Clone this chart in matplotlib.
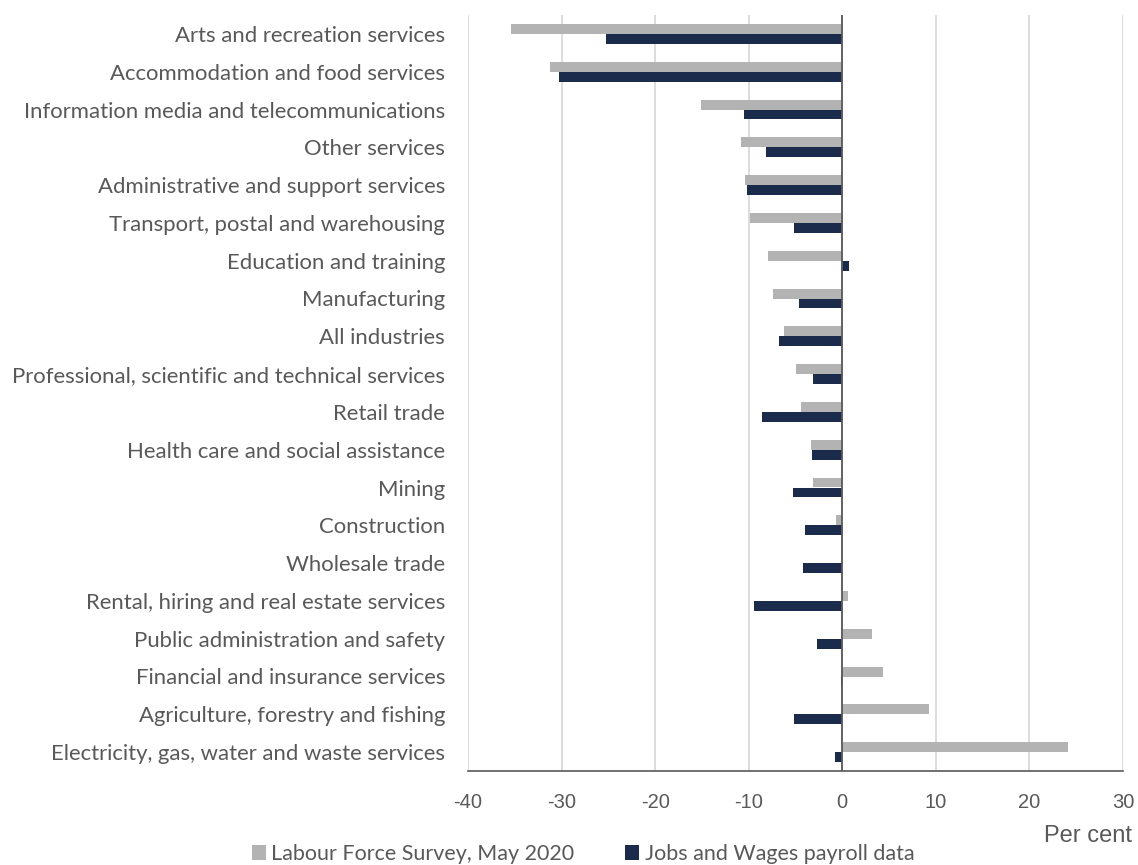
import matplotlib
matplotlib.use("Agg")
import matplotlib.pyplot as plt
import numpy as np

categories = [
    "Arts and recreation services",
    "Accommodation and food services",
    "Information media and telecommunications",
    "Other services",
    "Administrative and support services",
    "Transport, postal and warehousing",
    "Education and training",
    "Manufacturing",
    "All industries",
    "Professional, scientific and technical services",
    "Retail trade",
    "Health care and social assistance",
    "Mining",
    "Construction",
    "Wholesale trade",
    "Rental, hiring and real estate services",
    "Public administration and safety",
    "Financial and insurance services",
    "Agriculture, forestry and fishing",
    "Electricity, gas, water and waste services",
]
lfs = [-35.4, -31.2, -15.1, -10.8, -10.4, -9.9, -7.9, -7.4, -6.2, -4.9,
       -4.4, -3.3, -3.1, -0.7, 0.0, 0.6, 3.2, 4.4, 9.3, 24.1]
payroll = [-25.3, -30.3, -10.5, -8.1, -10.2, -5.2, 0.7, -4.6, -6.8, -3.1,
           -8.6, -3.2, -5.3, -4.0, -4.2, -9.4, -2.7, -0.1, -5.2, -0.8]
xticks = [-40, -30, -20, -10, 0, 10, 20, 30]

plt.rcParams['font.family'] = ['Lato', 'DejaVu Sans']

W, H = 1138, 865
fig = plt.figure(figsize=(W / 100, H / 100), dpi=100)
ax = fig.add_axes([468 / W, 1 - 771 / H, (1123 - 468) / W, (771 - 15) / H])

n = len(categories)
y = np.arange(n)
bh = 0.26
gray = "#B3B3B3"
navy = "#1B2B4B"
ax.barh(y - bh / 2, lfs, height=bh, color=gray, label="Labour Force Survey, May 2020", zorder=3)
ax.barh(y + bh / 2, payroll, height=bh, color=navy, label="Jobs and Wages payroll data", zorder=3)

ax.set_ylim(n - 0.5, -0.5)
ax.set_xlim(-40, 30)
ax.set_xticks(xticks)
ax.set_xticklabels([str(t) for t in xticks], fontsize=14.5, color="#595959",
                   family=['Liberation Sans', 'DejaVu Sans'])
ax.set_yticks(y)
ax.set_yticklabels(categories, fontsize=15.9, color="#595959")
ax.tick_params(axis='y', length=0, pad=16.5)
ax.tick_params(axis='x', length=0, pad=16)

ax.grid(axis='x', color="#D9D9D9", linewidth=1.3, zorder=0)
for s in ['top', 'right', 'left']:
    ax.spines[s].set_visible(False)
ax.spines['bottom'].set_color("#595959")
ax.spines['bottom'].set_linewidth(1.2)
ax.axvline(0, color="#595959", linewidth=1.3, zorder=4)

fig.text(1132 / W, 1 - 842 / H, "Per cent", ha='right', va='baseline', fontsize=17,
         color="#595959", family=['Liberation Sans', 'DejaVu Sans'])

leg = fig.legend(loc='center', bbox_to_anchor=(583 / W, 1 - 854 / H), ncol=2, frameon=False,
                 fontsize=15.5, handlelength=0.65, handleheight=0.65, handletextpad=0.25,
                 columnspacing=2.37, labelcolor="#595959", borderaxespad=0, borderpad=0)

fig.savefig("out.png", dpi=100)
